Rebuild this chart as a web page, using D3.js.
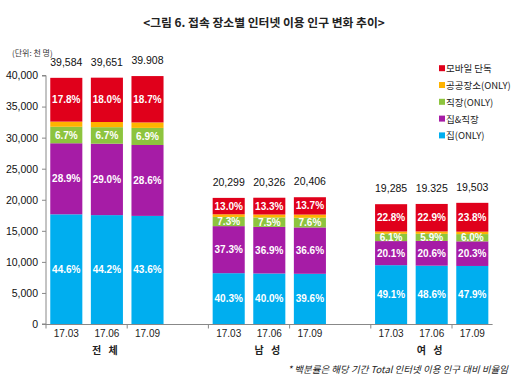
<!DOCTYPE html>
<html><head><meta charset="utf-8">
<script src="https://cdn.jsdelivr.net/npm/d3@7"></script>
<style>body{margin:0;background:#fff}svg{display:block;font-family:"Liberation Sans","Noto Sans CJK KR",sans-serif}</style>
</head><body><svg id="c" width="531" height="391"></svg>
<script>
const periods = ["17.03","17.06","17.09"];
const groups = ["전 체","남 성","여 성"];
const totals = [39584,39651,39908, 20299,20326,20406, 19285,19325,19503];
const totalLabels = ["39,584","39,651","39.908","20,299","20,326","20,406","19,285","19.325","19,503"];
const seriesNames = ["집(ONLY)","집&직장","직장(ONLY)","공공장소(ONLY)","모바일 단독"];
const homeOnly   = [44.6,44.2,43.6, 40.3,40.0,39.6, 49.1,48.6,47.9];
const homeWork   = [28.9,29.0,28.6, 37.3,36.9,36.6, 20.1,20.6,20.3];
const workOnly   = [6.7,6.7,6.9, 7.3,7.5,7.6, 6.1,5.9,6.0];
const publicOnly = [2.1,2.1,2.2, 2.1,2.3,2.5, 1.9,2.0,2.0];
const mobileOnly = [17.8,18.0,18.7, 13.0,13.3,13.7, 22.8,22.9,23.8];
const yTicks = [0,5000,10000,15000,20000,25000,30000,35000,40000];
const colors = ["#00AEEF","#A61CA6","#8DC43E","#FFB300","#E0001B"];
const showLabel = [true,true,true,false,true];

const svg = d3.select("#c");
const slots = d3.range(11);
const barSlot = [0,1,2,4,5,6,8,9,10];
const x = d3.scaleBand().domain(slots).range([46,492.6]).paddingInner(0.21).paddingOuter(0.105);
const y = d3.scaleLinear().domain([0,40000]).range([324,75.5]);

const series = [homeOnly,homeWork,workOnly,publicOnly,mobileOnly];
const rows = totals.map((t,i)=>{
  let acc=0; const segs=[];
  series.forEach((s,k)=>{ const v=t*s[i]/100; segs.push({k,y0:acc,y1:acc+v,pct:s[i]}); acc+=v; });
  return {i,slot:barSlot[i],total:t,segs};
});

// title
svg.append("text").attr("x",264).attr("y",27).attr("text-anchor","middle")
  .attr("font-size",11.8).attr("font-weight","bold").attr("fill","#222")
  .attr("font-family","'Noto Sans CJK KR',sans-serif")
  .text("<그림 6. 접속 장소별 인터넷 이용 인구 변화 추이>");
svg.append("text").attr("x",12).attr("y",56).attr("font-size",8).attr("fill","#333")
  .attr("font-family","'Noto Sans CJK KR',sans-serif").text("(단위: 천 명)");

// y axis
const ya = svg.append("g").attr("transform","translate(46,0)")
  .call(d3.axisLeft(y).tickValues(yTicks).tickSize(4).tickPadding(4).tickFormat(d3.format(",")));
ya.select(".domain").attr("stroke","#888").attr("d","M-4,75.5H0V324H-4");
ya.selectAll(".tick line").attr("stroke","#888");
ya.selectAll(".tick text").attr("font-size",10.5).attr("fill","#111").attr("font-family","'Liberation Sans',sans-serif");

// bars
const bar = svg.append("g").selectAll("g").data(rows).join("g");
bar.selectAll("rect").data(d=>d.segs.map(s=>({...s,slot:d.slot}))).join("rect")
  .attr("x",d=>x(d.slot)).attr("width",x.bandwidth())
  .attr("y",d=>y(d.y1)).attr("height",d=>y(d.y0)-y(d.y1))
  .attr("fill",d=>colors[d.k]);
bar.selectAll("text.p").data(d=>d.segs.filter(s=>showLabel[s.k]).map(s=>({...s,slot:d.slot}))).join("text")
  .attr("class","p")
  .attr("x",d=>x(d.slot)+x.bandwidth()/2).attr("y",d=>(y(d.y0)+y(d.y1))/2+3.5)
  .attr("text-anchor","middle").attr("font-size",10).attr("font-weight","bold").attr("fill","#fff")
  .text(d=>d.pct.toFixed(1)+"%");
bar.append("text").attr("x",d=>x(d.slot)+x.bandwidth()/2).attr("y",d=>y(d.total)-12)
  .attr("text-anchor","middle").attr("font-size",10.5).attr("fill","#111")
  .text(d=>totalLabels[d.i]);

// x axis
const xg = svg.append("g");
xg.append("line").attr("x1",46).attr("x2",492.6).attr("y1",324.5).attr("y2",324.5).attr("stroke","#888");
const step = x.step();
xg.selectAll("line.t").data([0,2,4,6,8,10]).join("line").attr("class","t")
  .attr("x1",d=>46+d*step).attr("x2",d=>46+d*step).attr("y1",324.5).attr("y2",328.5).attr("stroke","#888");
xg.selectAll("text.c").data(rows).join("text").attr("class","c")
  .attr("x",d=>x(d.slot)+x.bandwidth()/2).attr("y",337)
  .attr("text-anchor","middle").attr("font-size",10).attr("fill","#222")
  .text(d=>periods[d.i%3]);
xg.selectAll("text.g").data(groups).join("text").attr("class","g")
  .attr("x",(d,i)=>x(barSlot[i*3+1])+x.bandwidth()/2-2).attr("y",354)
  .attr("text-anchor","middle").attr("font-size",10).attr("font-weight","bold").attr("fill","#222")
  .attr("word-spacing",5)
  .attr("font-family","'Noto Sans CJK KR',sans-serif")
  .text(d=>d);

// legend
const legendOrder = [4,3,2,1,0];
const lg = svg.append("g").selectAll("g").data(legendOrder).join("g")
  .attr("transform",(d,i)=>`translate(439,${68.7+i*16.8})`);
lg.append("rect").attr("x",0).attr("y",-3.5).attr("width",6).attr("height",6).attr("fill",d=>colors[d]);
lg.append("text").attr("x",7).attr("y",3.5).attr("font-size",9.5).attr("fill","#222")
  .attr("font-family","'Noto Sans CJK KR',sans-serif").text(d=>seriesNames[d]);

// footnote
svg.append("text").attr("x",508).attr("y",373).attr("text-anchor","end")
  .attr("font-size",9.5).attr("font-style","italic").attr("fill","#222")
  .attr("font-family","'Noto Sans CJK KR',sans-serif")
  .text("* 백분률은 해당 기간 Total 인터넷 이용 인구 대비 비율임");
</script></body></html>
